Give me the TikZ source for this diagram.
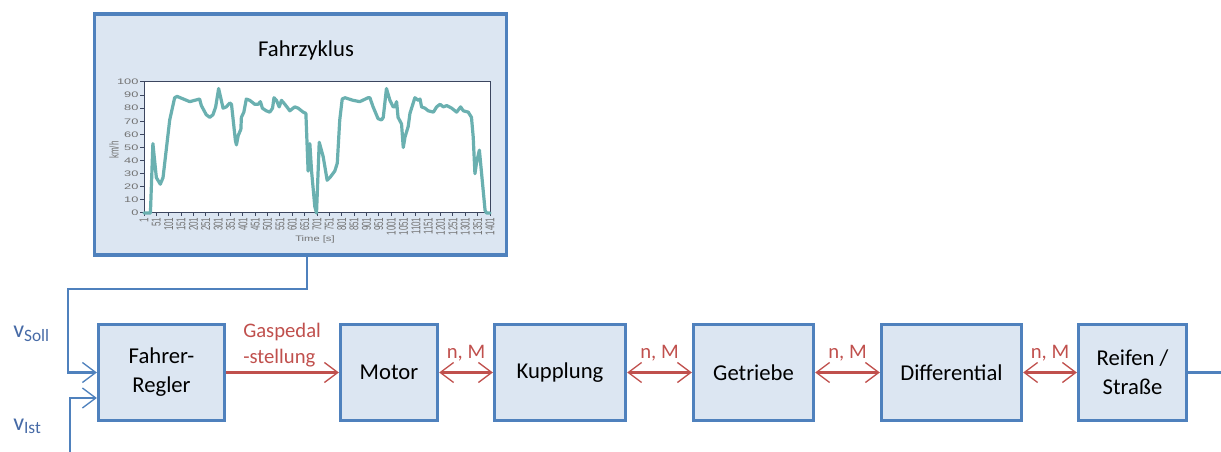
\documentclass[tikz,border=0pt]{standalone}
\usepackage{fontspec}
\setmainfont{Carlito}
\newfontfamily\chartfont{Liberation Sans}
\usepackage{graphicx}
\usetikzlibrary{arrows.meta,calc}

\definecolor{boxfill}{RGB}{220,230,242}
\definecolor{boxline}{RGB}{79,129,189}
\definecolor{forcered}{RGB}{192,80,77}
\definecolor{sigblue}{RGB}{79,129,189}
\definecolor{labelblue}{RGB}{70,106,166}
\definecolor{curveteal}{RGB}{106,176,176}
\definecolor{axisdark}{RGB}{60,70,95}
\definecolor{ticktext}{RGB}{115,115,115}

\tikzset{chev/.tip={Straight Barb[length=10pt,width=15pt,line width=1pt]}}

\begin{document}
\begin{tikzpicture}[x=0.75pt,y=-0.75pt,
  block/.style={draw=boxline, line width=2.5pt, fill=boxfill, minimum height=72pt,
    inner sep=0pt, align=center, font=\fontsize{17}{21.75}\selectfont},
  sig/.style={draw=sigblue, line width=1.6pt},
  sigarrow/.style={sig, -chev},
  flow/.style={draw=forcered, line width=1.6pt},
  nm/.style={text=forcered, font=\fontsize{15.5}{19}\selectfont, yshift=14.25pt},
  vlabel/.style={text=labelblue, anchor=base west, inner sep=0pt},
  ylab/.style={anchor=east, inner sep=1pt, text=ticktext, font=\chartfont\fontsize{6}{7}\selectfont},
  xlab/.style={rotate=90, anchor=east, inner sep=1pt, text=ticktext, font=\chartfont\fontsize{6}{7}\selectfont},
  axisline/.style={draw=axisdark, line width=0.75pt},
  speed/.style={draw=curveteal, line width=2.4pt, line join=round, line cap=round}
]
\useasboundingbox (0,0) rectangle (1221,452);

% drive cycle panel
\node[block, minimum width=309pt, minimum height=180.75pt] (fz) at (300.5,134.5) {};
\node[font=\fontsize{17}{21}\selectfont] (title) at (306,50) {Fahrzyklus};

% chart frame and axes
\fill[white] (144,82) rectangle (490,213);
\draw[axisline] (144,82) rectangle (490,213);
\foreach \v in {0,10,...,100} {
  \pgfmathsetmacro\yy{213-\v*1.31}
  \draw[axisline] (140,\yy) -- (144,\yy);
  \node[ylab] at (140,\yy) {\scalebox{1.6}[1]{\v}};
}
\foreach \k in {0,...,28} {
  \pgfmathsetmacro\xx{144+\k*12.357}
  \pgfmathtruncatemacro\lab{1+50*\k}
  \draw[axisline] (\xx,213) -- (\xx,216);
  \node[xlab] at (\xx,216) {\scalebox{1}[1.6]{\lab}};
}
\node[rotate=90, text=ticktext, font=\chartfont\fontsize{6}{7}\selectfont] (kmh) at (114,150) {\scalebox{1}[1.6]{km/h}};
\node[text=ticktext, font=\chartfont\fontsize{6}{7}\selectfont] (tlab) at (315,239) {\scalebox{1.4}[1]{Time [s]}};

% speed profile
\begin{scope}[shift={(144,213)}, x=0.18536pt, y=0.9825pt]
\draw[speed] plot coordinates {
(0,0) (26,0) (36,53) (50,27) (66,22) (77,27) (104,71) (124,88) (134,89) (185,85)
(225,87) (232,82) (252,75) (266,73) (279,75) (290,81) (302,95) (320,80) (333,81)
(347,84) (354,83) (370,55) (374,52) (381,59) (392,64) (394,73) (404,77) (414,87)
(428,86) (448,83) (462,83) (471,85) (479,80) (495,78) (509,77) (520,80) (526,88)
(536,86) (547,81) (556,86) (570,83) (590,78) (610,81) (624,80) (644,77) (655,76)
(664,32) (671,53) (678,32) (691,5) (698,0) (709,54) (725,43) (741,25) (752,27)
(772,32) (782,38) (792,71) (802,87) (813,88) (846,86) (873,85) (907,88) (914,88)
(927,81) (947,72) (961,71) (968,73) (981,95) (995,86) (1008,81) (1015,81) (1022,85)
(1028,73) (1042,68) (1049,50) (1056,58) (1069,66) (1076,76) (1096,88) (1110,86)
(1117,87) (1123,81) (1137,80) (1150,78) (1171,77) (1184,81) (1198,83) (1211,81)
(1225,82) (1245,80) (1265,77) (1281,81) (1292,78) (1312,77) (1325,73) (1332,58)
(1339,30) (1345,38) (1357,48) (1380,2) (1386,0) (1400,0)};
\end{scope}

% drivetrain blocks
\node[block, minimum width=94.5pt]  (FR)   at (161.5,372.5) {Fahrer-\\Regler};
\node[block, minimum width=72.75pt] (Mot)  at (389,372.5)   {Motor};
\node[block, minimum width=98.25pt] (Kup)  at (560,372.5)   {Kupplung};
\node[block, minimum width=90pt]    (Get)  at (753.5,372.5) {Getriebe};
\node[block, minimum width=105pt]   (Dif)  at (951.5,372.5) {Differential};
\node[block, minimum width=81pt]    (Rei)  at (1132.5,372.5) {Reifen /\\Straße};

% set point and actual speed inputs
\coordinate (tap) at (307,0);
\coordinate (bend) at (68,289);
\coordinate (istfoot) at (70,452);
\draw[sigarrow] (fz.south -| tap) |- (bend) |- (FR.west);
\draw[sigarrow] (istfoot) |- ($(FR.west)+(0,25.5)$);
\node[vlabel] (vsoll) at (13,338) {{\fontsize{18}{20}\selectfont v}\raisebox{-2.5pt}{\fontsize{13}{15}\selectfont Soll}};
\node[vlabel] (vist) at (13,430) {{\fontsize{18}{20}\selectfont v}\raisebox{-2.5pt}{\fontsize{13}{15}\selectfont Ist}};

% pedal signal
\draw[flow, -chev] (FR) -- (Mot);
\node[anchor=west, align=left, inner sep=0pt, text=forcered, font=\fontsize{15.5}{19.5}\selectfont] (gas) at (243,345) {Gaspedal\\-stellung};

% speed and torque exchange
\draw[flow, chev-chev] (Mot) -- node[nm] {n, M} (Kup);
\draw[flow, chev-chev] (Kup) -- node[nm] {n, M} (Get);
\draw[flow, chev-chev] (Get) -- node[nm] {n, M} (Dif);
\draw[flow, chev-chev] (Dif) -- node[nm] {n, M} (Rei);

% output
\coordinate (outend) at (1221,372.5);
\draw[sig] (Rei.east) -- (outend);
\end{tikzpicture}
\end{document}
